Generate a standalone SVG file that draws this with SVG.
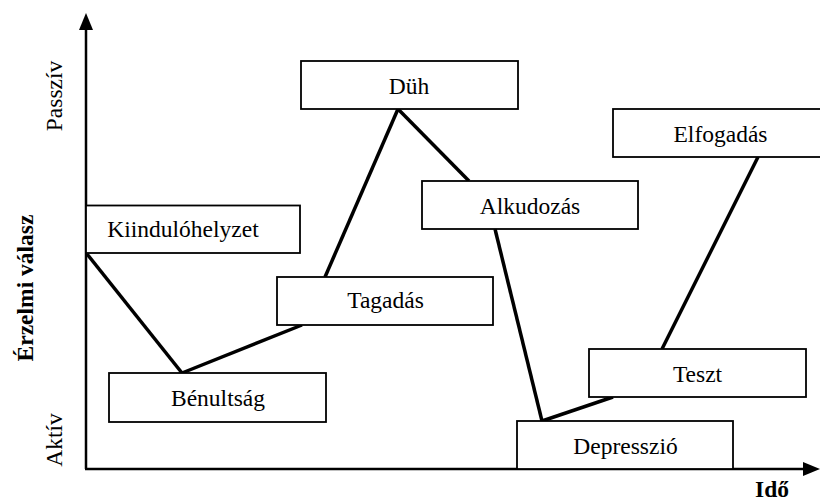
<svg xmlns="http://www.w3.org/2000/svg" width="820" height="503" viewBox="0 0 820 503">
  <style>
    .box rect { fill: #fff; stroke: #000; stroke-width: 1.8; }
    .box text { font-family: "Liberation Serif", "Times New Roman", serif; font-size: 23.5px; text-anchor: middle; fill: #000; }
    .axis { stroke: #000; stroke-width: 2.5; fill: none; }
    .link { stroke: #000; stroke-width: 3.5; fill: none; stroke-linecap: butt; }
    .lab { font-family: "Liberation Serif", "Times New Roman", serif; font-size: 23.5px; fill: #000; text-anchor: middle; }
    .bold { font-weight: bold; }
  </style>
  <rect width="820" height="503" fill="#fff"/>

  <!-- axes -->
  <g id="axes">
    <line class="axis" x1="86" y1="469" x2="86" y2="28"/>
    <polygon points="86,13 79,30 93,30" fill="#000"/>
    <line class="axis" x1="85" y1="469" x2="806" y2="469"/>
    <polygon points="820,469 803,462 803,476" fill="#000"/>
  </g>

  <!-- axis labels -->
  <g id="axis-labels">
    <text class="lab" transform="translate(62,96) rotate(-90)">Passzív</text>
    <text class="lab" transform="translate(62,440) rotate(-90)">Aktív</text>
    <text class="lab bold" transform="translate(33,288) rotate(-90)">Érzelmi válasz</text>
    <text class="lab bold" x="772" y="497" font-size="22">Idő</text>
  </g>

  <!-- connectors -->
  <g id="connectors">
    <line class="link" x1="87" y1="254" x2="182" y2="373"/>
    <line class="link" x1="182" y1="373" x2="302" y2="325"/>
    <line class="link" x1="325" y1="277" x2="398" y2="109"/>
    <line class="link" x1="398" y1="109" x2="469" y2="181" stroke-width="2.5"/>
    <line class="link" x1="495" y1="229" x2="542" y2="421"/>
    <line class="link" x1="542" y1="421" x2="613" y2="397"/>
    <line class="link" x1="662" y1="349" x2="758" y2="157"/>
  </g>

  <!-- stages -->
  <g id="kiindulohelyzet" class="box">
    <rect x="86" y="205.5" width="214" height="47.5"/>
    <text x="183" y="237">Kiindulóhelyzet</text>
  </g>
  <g id="benultsag" class="box">
    <rect x="109" y="373" width="217" height="49"/>
    <text x="218" y="406">Bénultság</text>
  </g>
  <g id="tagadas" class="box">
    <rect x="277" y="277" width="216" height="48"/>
    <text x="385.5" y="308">Tagadás</text>
  </g>
  <g id="duh" class="box">
    <rect x="301" y="61" width="217" height="48"/>
    <text x="409" y="94">Düh</text>
  </g>
  <g id="alkudozas" class="box">
    <rect x="422" y="181" width="216" height="48"/>
    <text x="530" y="214">Alkudozás</text>
  </g>
  <g id="elfogadas" class="box">
    <rect x="613" y="109" width="217" height="48"/>
    <text x="720.5" y="142">Elfogadás</text>
  </g>
  <g id="teszt" class="box">
    <rect x="589" y="349" width="217" height="48"/>
    <text x="697.5" y="382">Teszt</text>
  </g>
  <g id="depresszio" class="box">
    <rect x="517" y="421" width="216" height="48"/>
    <text x="625.5" y="454">Depresszió</text>
  </g>
</svg>
